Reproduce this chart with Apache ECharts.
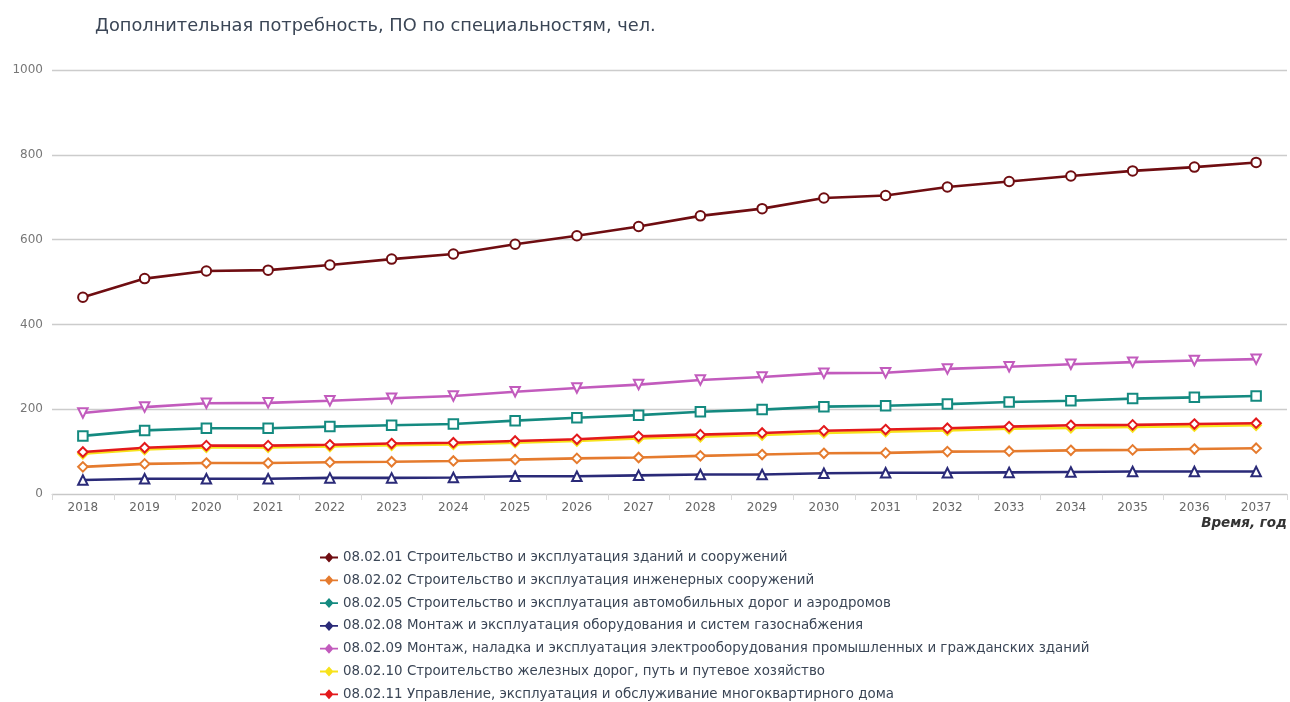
<!DOCTYPE html>
<html>
<head>
<meta charset="utf-8">
<script src="https://cdn.jsdelivr.net/npm/echarts@6/dist/echarts.min.js"></script>
<style>
  html, body { margin: 0; padding: 0; background: #fff; }
  #chart { width: 1290px; height: 702px; }
</style>
</head>
<body>
<div id="chart"></div>
<script>
// годы
const years = ['2018', '2019', '2020', '2021', '2022', '2023', '2024', '2025', '2026', '2027',
  '2028', '2029', '2030', '2031', '2032', '2033', '2034', '2035', '2036', '2037'];

const yTicks = [0, 200, 400, 600, 800, 1000];

const names = [
  '08.02.01 Строительство и эксплуатация зданий и сооружений',
  '08.02.02 Строительство и эксплуатация инженерных сооружений',
  '08.02.05 Строительство и эксплуатация автомобильных дорог и аэродромов',
  '08.02.08 Монтаж и эксплуатация оборудования и систем газоснабжения',
  '08.02.09 Монтаж, наладка и эксплуатация электрооборудования промышленных и гражданских зданий',
  '08.02.10 Строительство железных дорог, путь и путевое хозяйство',
  '08.02.11 Управление, эксплуатация и обслуживание многоквартирного дома'
];

const s080201 = [464, 508, 526, 528, 540, 554, 566, 589, 609, 631, 656, 673, 698, 704, 724, 737, 750, 762, 771, 782];
const s080202 = [64, 71, 73, 73, 75, 76, 78, 81, 84, 86, 90, 93, 96, 97, 100, 101, 103, 104, 106, 108];
const s080205 = [137, 150, 155, 155, 159, 162, 165, 173, 180, 186, 194, 199, 206, 208, 212, 217, 220, 225, 228, 231];
const s080208 = [33, 36, 36, 36, 38, 38, 39, 42, 42, 44, 46, 46, 49, 50, 50, 51, 52, 53, 53, 53];
const s080209 = [191, 205, 214, 215, 220, 226, 231, 241, 250, 258, 269, 276, 285, 286, 295, 300, 306, 311, 315, 318];
const s080210 = [95, 105, 110, 110, 112, 115, 117, 121, 125, 131, 135, 139, 144, 147, 150, 154, 156, 158, 160, 162];
const s080211 = [99, 109, 114, 114, 116, 119, 121, 125, 129, 136, 140, 144, 149, 152, 155, 159, 162, 163, 165, 167];

const chart = echarts.init(document.getElementById('chart'));

const FONT = 'DejaVu Sans';
const TEXT = '#3b4656';
// значок легенды: линия + закрашенный ромб
const LEGEND_ICON = 'path://M0,5.1 L18,5.1 L18,6.9 L0,6.9 Z M9,1 L13.5,6 L9,11 L4.5,6 Z';

function line(name, data, color, symbol, rotate) {
  return {
    name: name,
    type: 'line',
    data: data,
    symbol: symbol,
    symbolSize: 9.5,
    symbolRotate: rotate || 0,
    showAllSymbol: true,
    lineStyle: { color: color, width: 2.6 },
    itemStyle: { color: color, borderColor: color, borderWidth: 2.2 },
    emphasis: { disabled: true }
  };
}

chart.setOption({
  animation: false,
  title: {
    text: 'Дополнительная потребность, ПО по специальностям, чел.',
    left: 90,
    top: 12,
    textStyle: { fontFamily: FONT, fontSize: 17.8, fontWeight: 'normal', color: TEXT }
  },
  legend: {
    orient: 'vertical',
    left: 320,
    top: 551,
    height: 200,
    padding: 0,
    itemGap: 9.8,
    itemWidth: 18,
    itemHeight: 12,
    icon: LEGEND_ICON,
    itemStyle: { borderWidth: 0 },
    textStyle: { fontFamily: FONT, fontSize: 13.4, color: TEXT },
    data: names
  },
  grid: { left: 52, right: 0, top: 70, bottom: 208, containLabel: false },
  xAxis: {
    type: 'category',
    data: years,
    boundaryGap: true,
    name: 'Время, год',
    nameLocation: 'end',
    nameGap: 0,
    nameTextStyle: {
      fontFamily: FONT, fontSize: 13.5, fontWeight: 'bold', fontStyle: 'italic', color: '#333',
      align: 'right', verticalAlign: 'top', padding: [22, 0, 0, 0]
    },
    axisLine: { lineStyle: { color: '#c8c8c8' } },
    axisTick: { show: true, length: 6, lineStyle: { color: '#d8d8d8' } },
    axisLabel: { fontFamily: FONT, fontSize: 12, color: '#666', margin: 8 }
  },
  yAxis: {
    type: 'value',
    min: yTicks[0],
    max: yTicks[yTicks.length - 1],
    interval: 200,
    axisLine: { show: false },
    axisTick: { show: false },
    axisLabel: { fontFamily: FONT, fontSize: 12, color: '#777', margin: 9, formatter: v => String(v) },
    splitLine: { lineStyle: { color: '#cccccc', width: 1.3 } }
  },
  series: [
    line(names[0], s080201, '#6f0d11', 'emptyCircle'),
    line(names[1], s080202, '#e57b2e', 'emptyDiamond'),
    line(names[2], s080205, '#148a80', 'emptyRect'),
    line(names[3], s080208, '#2a2a78', 'emptyTriangle'),
    line(names[4], s080209, '#c25bbd', 'emptyTriangle', 180),
    line(names[5], s080210, '#f7e21b', 'emptyDiamond'),
    line(names[6], s080211, '#e3191c', 'emptyDiamond')
  ]
});
</script>
</body>
</html>
